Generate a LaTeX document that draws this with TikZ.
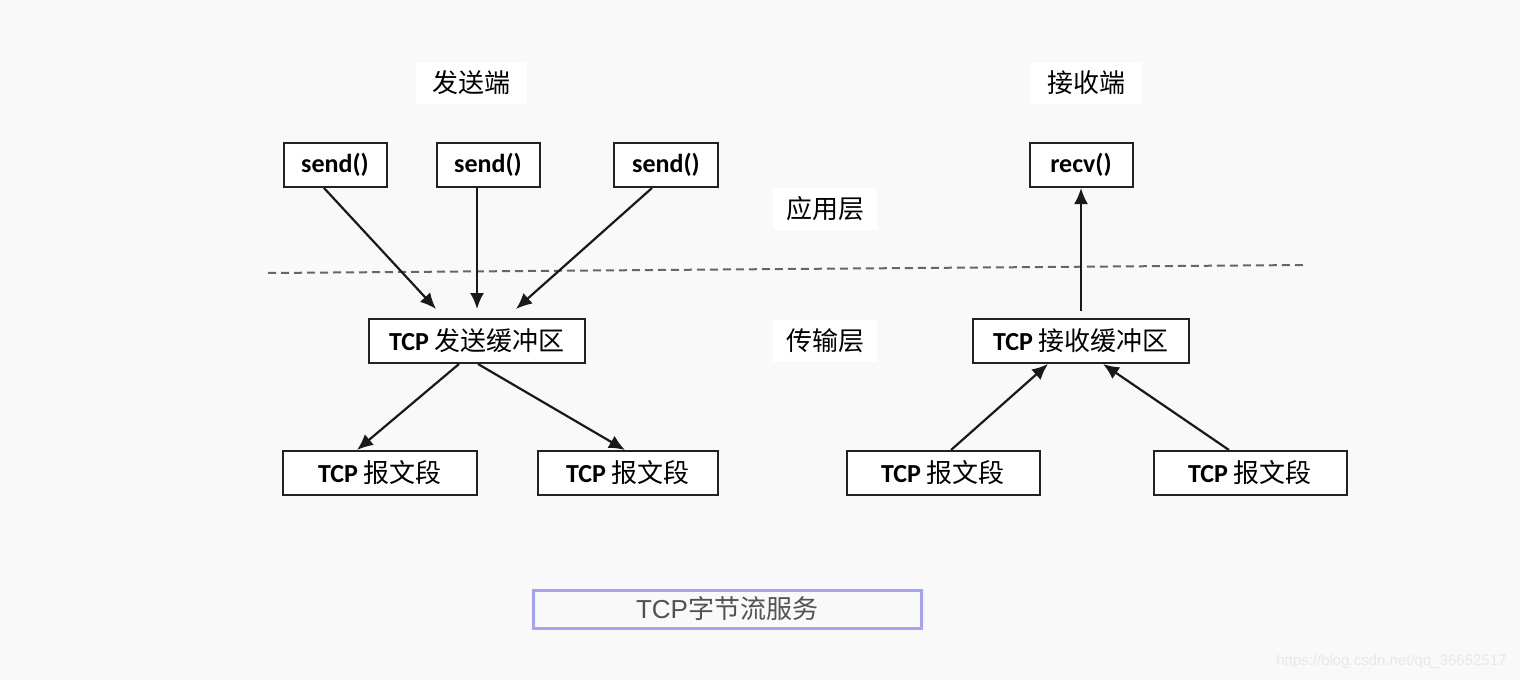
\documentclass[tikz,border=0pt]{standalone}
\usepackage{fontspec}
\setmainfont{Carlito}
\newfontfamily\cjk{Noto Sans CJK SC}
\newfontfamily\helv{Liberation Sans}
\usetikzlibrary{arrows.meta}
\definecolor{bgcol}{HTML}{F9F9F9}
\definecolor{boxline}{HTML}{222222}
\definecolor{lavender}{HTML}{A3A3F0}
\def\tcp#1{{\bfseries TCP}\ {\cjk #1}}

\begin{document}
\begin{tikzpicture}[x=1pt,y=-1pt,
	box/.style={draw=boxline,line width=2pt,fill=white,inner sep=0pt,minimum height=44pt,font=\fontsize{26}{30}\selectfont},
	tag/.style={fill=white,inner sep=0pt,minimum width=104pt,minimum height=42pt,font=\cjk\fontsize{26}{30}\selectfont},
	arr/.style={line width=2.2pt,draw=black!90,-{Latex[length=16pt,width=14pt]}}]
			%%%%% START %%%%%
			
			\fill[bgcol] (0, 0) rectangle (1520, 680);
			
			\node[tag, minimum width=111pt] (sendtag) at (471, 83) {发送端};
			\node[tag, minimum width=111pt] (recvtag) at (1086, 83) {接收端};
			\node[tag] (apptag) at (825, 209) {应用层};
			\node[tag] (transtag) at (825, 341) {传输层};
			
			\draw[line width=2pt, color=black!60, dash pattern=on 8pt off 5pt] (268, 273) -- (1305, 265);
			
			\node[box, minimum width=103pt] (s1) at (335, 165) {\textbf{send()}};
			\node[box, minimum width=103pt] (s2) at (488, 165) {\textbf{send()}};
			\node[box, minimum width=104pt] (s3) at (666, 165) {\textbf{send()}};
			\node[box, minimum width=103pt] (recv) at (1081, 165) {\textbf{recv()}};
			
			\node[box, minimum width=216pt] (sbuf) at (477, 341) {\tcp{发送缓冲区}};
			\node[box, minimum width=216pt] (rbuf) at (1081, 341) {\tcp{接收缓冲区}};
			
			\node[box, minimum width=194pt] (seg1) at (380, 473) {\tcp{报文段}};
			\node[box, minimum width=180pt] (seg2) at (628, 473) {\tcp{报文段}};
			\node[box, minimum width=193pt] (seg3) at (943, 473) {\tcp{报文段}};
			\node[box, minimum width=193pt] (seg4) at (1250, 473) {\tcp{报文段}};
			
			\draw[arr] ([xshift=-11pt]s1.south) -- ([xshift=-41pt, yshift=9pt]sbuf.north);
			\draw[arr] ([xshift=-11pt]s2.south) -- ([yshift=9pt]sbuf.north);
			\draw[arr] ([xshift=-14pt]s3.south) -- ([xshift=39pt, yshift=9pt]sbuf.north);
			
			\draw[arr] ([xshift=-18pt]sbuf.south) -- ([xshift=-23pt]seg1.north);
			\draw[arr] ([xshift=1pt]sbuf.south) -- ([xshift=-3pt]seg2.north);
			
			\draw[arr] ([xshift=8pt]seg3.north) -- ([xshift=-33pt]rbuf.south);
			\draw[arr] ([xshift=-21pt]seg4.north) -- ([xshift=22pt]rbuf.south);
			\draw[arr] ([yshift=7pt]rbuf.north) -- (recv.south);
			
			\node[draw=lavender, line width=3pt, minimum width=388pt, minimum height=38pt, inner sep=0pt,
				text=black!68, font=\fontsize{26}{30}\selectfont] (service) at (727, 609) {{\helv TCP}{\cjk 字节流服务}};
			
			\node[text=black!9, font=\helv\fontsize{15}{18}\selectfont, anchor=east] (mark) at (1510, 662) {https://blog.csdn.net/qq\_36652517};
			
			%%%%% END %%%%%
\end{tikzpicture}
\end{document}
